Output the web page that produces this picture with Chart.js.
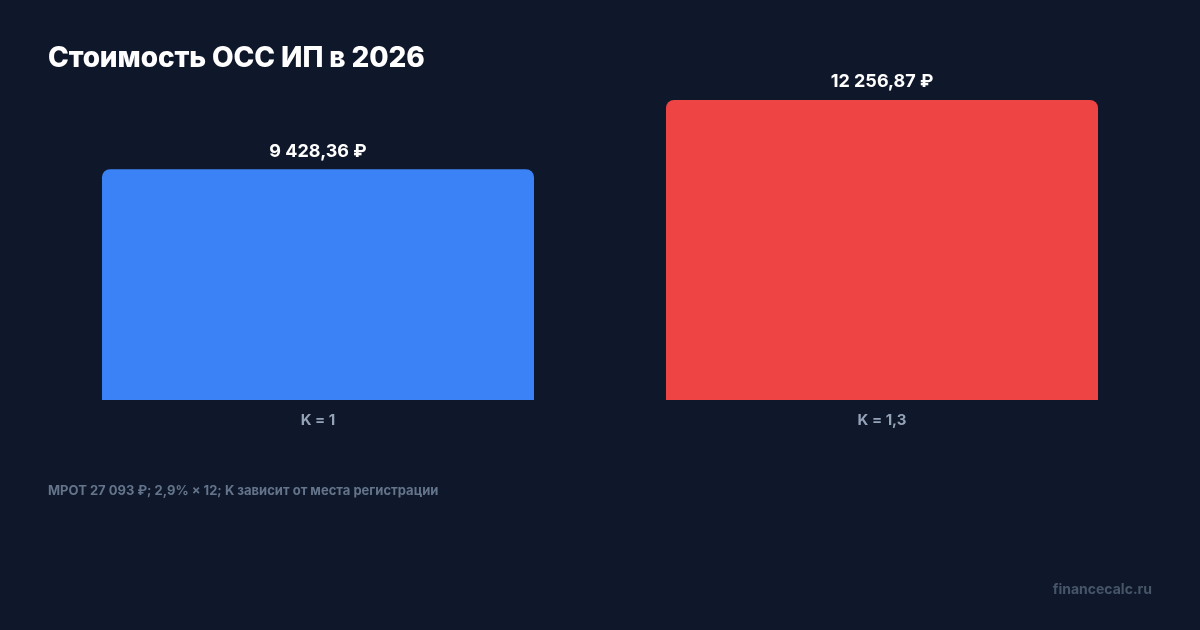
<!DOCTYPE html>
<html lang="ru">
<head>
<meta charset="utf-8">
<script src="https://cdn.jsdelivr.net/npm/chart.js@4/dist/chart.umd.min.js"></script>
<style>
    html, body { margin: 0; padding: 0; background: #0f172a; }
    body { width: 1200px; height: 630px; position: relative; overflow: hidden; font-family: Inter, "Noto Sans", sans-serif; }
    #title { position: absolute; left: 48px; top: 40px; margin: 0; color: #ffffff; font-size: 28px; font-weight: 800; letter-spacing: -0.1px; }
    #note { position: absolute; left: 48px; top: 482px; color: #64748b; font-size: 13px; font-weight: 700; }
    #brand { position: absolute; right: 48px; top: 580px; color: #475569; font-size: 14px; font-weight: 700; }
    #wrap { position: absolute; left: 0; top: 0; width: 1200px; height: 630px; }
</style>
</head>
<body>
<div id="wrap"><canvas id="chart"></canvas></div>
<h1 id="title">Стоимость ОСС ИП в 2026</h1>
<div id="note">МРОТ 27 093 ₽; 2,9% × 12; K зависит от места регистрации</div>
<div id="brand">financecalc.ru</div>
<script>
// Data
const categories = ['K = 1', 'K = 1,3'];
const costValues = [9428.36, 12256.87];
const valueLabels = ['9 428,36 ₽', '12 256,87 ₽'];
const barColors = ['#3b82f6', '#ef4444'];

// Draw the value above each bar
const valueLabelPlugin = {
    id: 'valueLabels',
    afterDatasetsDraw(chart) {
        const ctx = chart.ctx;
        const meta = chart.getDatasetMeta(0);
        ctx.save();
        ctx.fillStyle = '#ffffff';
        ctx.font = '700 18px Inter, "Noto Sans", sans-serif';
        ctx.textAlign = 'center';
        ctx.textBaseline = 'middle';
        meta.data.forEach((bar, i) => {
            ctx.fillText(valueLabels[i], bar.x, bar.y - 18);
        });
        ctx.restore();
    }
};

new Chart(document.getElementById('chart').getContext('2d'), {
    type: 'bar',
    data: {
        labels: categories,
        datasets: [{
            data: costValues,
            backgroundColor: barColors,
            borderRadius: { topLeft: 8, topRight: 8, bottomLeft: 0, bottomRight: 0 },
            borderSkipped: 'bottom',
            barPercentage: 0.766,
            categoryPercentage: 1
        }]
    },
    options: {
        responsive: true,
        maintainAspectRatio: false,
        animation: false,
        layout: { padding: { left: 36, right: 36, top: 100, bottom: 0 } },
        plugins: {
            legend: { display: false },
            tooltip: { enabled: false }
        },
        scales: {
            x: {
                grid: { display: false },
                border: { display: false },
                ticks: {
                    color: '#94a3b8',
                    font: { family: 'Inter, "Noto Sans", sans-serif', size: 15, weight: '700' },
                    padding: 3
                },
                afterFit(scale) { scale.height = 230; }
            },
            y: {
                display: false,
                min: 0,
                max: Math.max(...costValues)
            }
        }
    },
    plugins: [valueLabelPlugin]
});
</script>
</body>
</html>
